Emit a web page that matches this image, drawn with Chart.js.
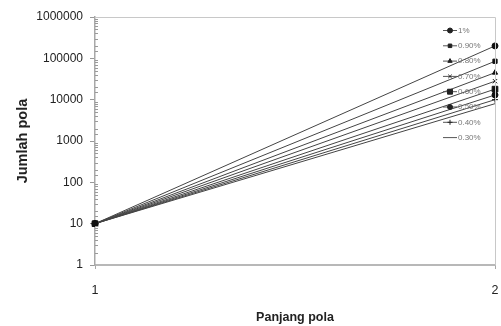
<!DOCTYPE html>
<html>
<head>
<meta charset="utf-8">
<script src="https://cdn.jsdelivr.net/npm/chart.js@4/dist/chart.umd.min.js"></script>
<style>
  html, body { margin: 0; padding: 0; background: #fff; }
  #wrap { width: 501px; height: 326px; }
</style>
</head>
<body>
<div id="wrap"><canvas id="pola-chart"></canvas></div>
<script>
// panjang pola (x) and jumlah pola (y) per support value
const panjangPola = [1, 2];
const seriesLabels = ['1%', '0.90%', '0.80%', '0.70%', '0.60%', '0.50%', '0.40%', '0.30%'];
const pola100 = [10, 200000];
const pola090 = [10, 85000];
const pola080 = [10, 45000];
const pola070 = [10, 28000];
const pola060 = [10, 18000];
const pola050 = [10, 13000];
const pola040 = [10, 10000];
const pola030 = [10, 8000];
const yTickLabels = ['1', '10', '100', '1000', '10000', '100000', '1000000'];

const seriesValues = [pola100, pola090, pola080, pola070, pola060, pola050, pola040, pola030];
const markerStyles = ['circle', 'rect', 'triangle', 'crossRot', 'rect', 'circle', 'cross', 'circle'];
const markerSizes = [3, 3, 3, 3, 4, 3, 3, 0];

const FONT = "'Liberation Sans', Arial, sans-serif";

function isDecade(v) {
  return yTickLabels.indexOf(String(v)) !== -1;
}

// small inside tick marks for the log axis, plus the gray plot frame
const framePlugin = {
  id: 'framePlugin',
  afterDraw(chart) {
    const ctx = chart.ctx;
    const a = chart.chartArea;
    const y = chart.scales.y;
    ctx.save();
    ctx.strokeStyle = '#c8c8c8';
    ctx.lineWidth = 1;
    ctx.beginPath();
    ctx.moveTo(a.left, a.top + 0.5);
    ctx.lineTo(a.right + 0.5, a.top + 0.5);
    ctx.lineTo(a.right + 0.5, a.bottom);
    ctx.stroke();
    ctx.strokeStyle = '#9a9a9a';
    ctx.beginPath();
    y.ticks.forEach(t => {
      if (isDecade(t.value)) return;
      const py = Math.round(y.getPixelForValue(t.value)) + 0.5;
      ctx.moveTo(a.left, py);
      ctx.lineTo(a.left + 3, py);
    });
    ctx.stroke();
    ctx.restore();
  }
};

// legend drawn inside the plot, top right
const innerLegend = {
  id: 'innerLegend',
  afterDraw(chart) {
    const ctx = chart.ctx;
    ctx.save();
    ctx.font = '8px ' + FONT;
    ctx.textBaseline = 'middle';
    chart.data.datasets.forEach((ds, i) => {
      const py = 30 + i * 15.3;
      ctx.strokeStyle = '#555';
      ctx.lineWidth = 1;
      ctx.beginPath();
      ctx.moveTo(443, py + 0.5);
      ctx.lineTo(457, py + 0.5);
      ctx.stroke();
      if (ds.pointRadius > 0) {
        ctx.fillStyle = '#222';
        ctx.strokeStyle = '#222';
        Chart.helpers.drawPoint(ctx, {
          pointStyle: ds.pointStyle,
          radius: ds.pointRadius - 0.5,
          borderWidth: 1
        }, 450, py + 0.5);
      }
      ctx.fillStyle = '#777';
      ctx.fillText(ds.label, 458, py + 0.5);
    });
    ctx.restore();
  }
};

const datasets = seriesLabels.map((label, i) => ({
  label: label,
  data: panjangPola.map((x, j) => ({ x: x, y: seriesValues[i][j] })),
  borderColor: '#444',
  backgroundColor: '#111',
  pointBorderColor: '#111',
  borderWidth: 1,
  pointStyle: markerStyles[i],
  pointRadius: markerSizes[i],
  pointBorderWidth: 1,
  clip: false
}));

new Chart(document.getElementById('pola-chart').getContext('2d'), {
  type: 'line',
  data: { datasets: datasets },
  options: {
    responsive: true,
    maintainAspectRatio: false,
    animation: false,
    events: [],
    layout: {
      padding: { top: 17, right: 6, left: 0, bottom: 0 }
    },
    plugins: {
      legend: { display: false },
      tooltip: { enabled: false }
    },
    scales: {
      x: {
        type: 'linear',
        min: 1,
        max: 2,
        afterFit(scale) {
          scale.height = 61;
          scale.paddingLeft = 0;
          scale.paddingRight = 0;
        },
        border: { color: '#b8b8b8', width: 2 },
        grid: { drawOnChartArea: false, tickLength: 4, color: '#a8a8a8' },
        ticks: {
          stepSize: 1,
          padding: 14,
          color: '#222',
          font: { family: FONT, size: 12.5 },
          callback: v => String(v)
        },
        title: {
          display: true,
          text: 'Panjang pola',
          color: '#222',
          font: { family: FONT, size: 12.5, weight: 'bold' },
          padding: { top: 0, bottom: 1 }
        }
      },
      y: {
        type: 'logarithmic',
        min: 1,
        max: 1000000,
        afterFit(scale) { scale.width = 95; },
        border: { color: '#a8a8a8', width: 1.5 },
        grid: {
          drawOnChartArea: false,
          tickLength: 5,
          tickColor: c => (c.tick && isDecade(c.tick.value)) ? '#999' : 'rgba(0,0,0,0)'
        },
        ticks: {
          autoSkip: false,
          padding: 7,
          color: '#222',
          font: { family: FONT, size: 12 },
          callback: v => isDecade(v) ? String(v) : ''
        },
        title: {
          display: true,
          text: 'Jumlah pola',
          color: '#222',
          font: { family: FONT, size: 14.5, weight: 'bold' },
          padding: { top: 14, bottom: 0 }
        }
      }
    }
  },
  plugins: [framePlugin, innerLegend]
});
</script>
</body>
</html>
